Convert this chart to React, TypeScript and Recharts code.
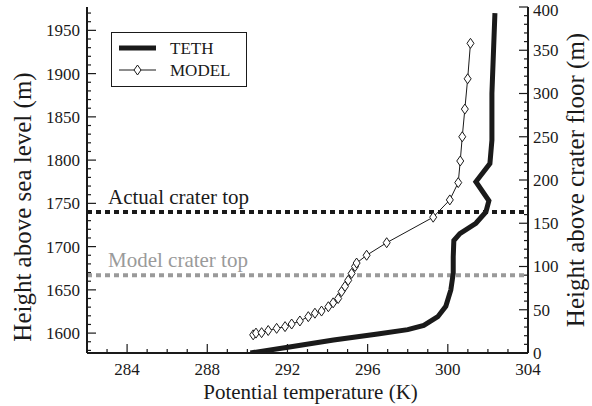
import React from 'react';
import { LineChart, Line, XAxis, YAxis, ReferenceLine, Legend } from 'recharts';

// TETH profile (thick line): potential temperature (K) vs height above sea level (m)
const tethTemp = [290.15, 292.1, 294.3, 296.5, 298.0, 298.8, 299.5, 299.9, 300.15, 300.27, 300.27, 300.3, 300.6, 301.4, 301.9, 302.05, 301.4, 302.1, 302.2, 302.2, 302.35];
const tethHeight = [1577, 1584, 1592, 1599, 1604, 1609, 1619, 1631, 1650, 1669, 1688, 1707, 1715, 1727, 1740, 1753, 1775, 1796, 1823, 1877, 1970];

// MODEL profile (thin line with diamonds)
const modelTemp = [290.29, 290.43, 290.71, 291.04, 291.46, 291.88, 292.21, 292.62, 293.04, 293.37, 293.7, 294.04, 294.28, 294.53, 294.7, 294.87, 295.03, 295.2, 295.37, 295.45, 295.95, 296.95, 299.27, 300.1, 300.52, 300.62, 300.72, 300.85, 300.99, 301.13];
const modelHeight = [1598, 1600, 1600.5, 1603, 1605.5, 1607.5, 1610.5, 1614, 1619, 1623, 1625.5, 1630.5, 1635, 1640, 1648, 1654, 1661, 1669, 1677, 1681, 1690, 1704.5, 1734, 1754, 1774, 1799, 1827, 1859, 1894, 1935];

const tempLabels = [284, 288, 292, 296, 300, 304];
const seaLevelLabels = [1600, 1650, 1700, 1750, 1800, 1850, 1900, 1950];
const craterLabels = [0, 50, 100, 150, 200, 250, 300, 350, 400];

const actualCraterTop = 1740;
const modelCraterTop = 1667;
const craterFloor = 1577;

const tempMinor = Array.from({ length: 23 }, (_, i) => 282 + i);
const seaLevelMinor = Array.from({ length: 40 }, (_, i) => 1580 + i * 10);
const craterMinor = Array.from({ length: 41 }, (_, i) => i * 10);

const tethData = tethTemp.map((t, i) => ({ t, h: tethHeight[i] }));
const modelData = modelTemp.map((t, i) => ({ t, h: modelHeight[i] }));

const FONT = 'Liberation Serif, Times New Roman, serif';
const INK = '#1a1a1a';
const GRAY = '#9a9a9a';
const txt = (size: number, color = INK): React.CSSProperties => ({ fontFamily: FONT, fontSize: size, fill: color });

const BottomTick = (props: any) => {
  const { x, y, payload } = props;
  const major = tempLabels.includes(payload.value);
  return (
    <g>
      <line x1={x} x2={x} y1={y} y2={y - (major ? 9 : 4)} stroke={INK} strokeWidth={1.2} />
      {major && (
        <text x={x} y={y + 22} textAnchor="middle" style={txt(17)}>{payload.value}</text>
      )}
    </g>
  );
};

const TopTick = (props: any) => {
  const { x, y, payload } = props;
  const major = tempLabels.includes(payload.value);
  return <line x1={x} x2={x} y1={y} y2={y + (major ? 9 : 4)} stroke={INK} strokeWidth={1.2} />;
};

const LeftTick = (props: any) => {
  const { x, y, payload } = props;
  const major = seaLevelLabels.includes(payload.value);
  return (
    <g>
      <line x1={x} x2={x + (major ? 9 : 4)} y1={y} y2={y} stroke={INK} strokeWidth={1.2} />
      {major && (
        <text x={x - 7} y={y} dy="0.35em" textAnchor="end" style={txt(17)}>{payload.value}</text>
      )}
    </g>
  );
};

const RightTick = (props: any) => {
  const { x, y, payload } = props;
  const major = craterLabels.includes(payload.value);
  return (
    <g>
      <line x1={x} x2={x - (major ? 9 : 4)} y1={y} y2={y} stroke={INK} strokeWidth={1.2} />
      {major && (
        <text x={x + 5} y={y} dy={payload.value === 400 ? '0.5em' : '0.35em'} textAnchor="start" style={txt(17)}>{payload.value}</text>
      )}
    </g>
  );
};

const Diamond = (props: any) => {
  const { cx, cy } = props;
  if (cx == null || cy == null) return null;
  return (
    <polygon
      points={`${cx},${cy - 5} ${cx + 3.5},${cy} ${cx},${cy + 5} ${cx - 3.5},${cy}`}
      fill="#fff"
      stroke={INK}
      strokeWidth={1}
    />
  );
};

const renderLegend = () => (
  <div style={{ width: 136, height: 55, border: `1.5px solid ${INK}`, background: '#fff', boxSizing: 'border-box' }}>
    <svg width={134} height={52}>
      <line x1={7} x2={44} y1={15} y2={15} stroke={INK} strokeWidth={5} />
      <text x={58} y={15} dy="0.35em" style={txt(17)}>TETH</text>
      <line x1={7} x2={44} y1={37} y2={37} stroke={INK} strokeWidth={1} />
      <Diamond cx={25.5} cy={37} />
      <text x={58} y={37} dy="0.35em" style={txt(17)}>MODEL</text>
    </svg>
  </div>
);

const craterLabel = (text: string, color: string) => (props: any) => {
  const { viewBox } = props;
  return (
    <text x={viewBox.x + 21} y={viewBox.y - 8} style={txt(21, color)}>{text}</text>
  );
};

const App: React.FC = () => {
  return (
    <div style={{ position: 'absolute', left: 0, top: 0, background: '#fff' }}>
      <LineChart width={592} height={406} margin={{ top: 7, right: 0, bottom: 0, left: 0 }}>
        <XAxis
          xAxisId="bottom"
          dataKey="t"
          type="number"
          domain={[282, 304]}
          allowDataOverflow
          ticks={tempMinor}
          interval={0}
          tickSize={0}
          tickMargin={0}
          height={53}
          axisLine={{ stroke: INK, strokeWidth: 2 }}
          tickLine={false}
          tick={<BottomTick />}
          label={(p: any) => (
            <text x={p.viewBox.x + p.viewBox.width / 2 + 3} y={399} textAnchor="middle" style={txt(21)}>
              Potential temperature (K)
            </text>
          )}
        />
        <XAxis
          xAxisId="top"
          orientation="top"
          dataKey="t"
          type="number"
          domain={[282, 304]}
          allowDataOverflow
          ticks={tempMinor}
          interval={0}
          tickSize={0}
          tickMargin={0}
          height={0}
          axisLine={{ stroke: INK, strokeWidth: 2 }}
          tickLine={false}
          tick={<TopTick />}
        />
        <YAxis
          yAxisId="left"
          type="number"
          domain={[craterFloor, craterFloor + 400]}
          allowDataOverflow
          ticks={seaLevelMinor}
          interval={0}
          tickSize={0}
          tickMargin={0}
          width={87}
          axisLine={{ stroke: INK, strokeWidth: 2 }}
          tickLine={false}
          tick={<LeftTick />}
          label={(p: any) => (
            <text
              x={0}
              y={0}
              transform={`translate(${31}, ${p.viewBox.y + p.viewBox.height / 2 + 27}) rotate(-90)`}
              textAnchor="middle"
              style={txt(25)}
            >
              Height above sea level (m)
            </text>
          )}
        />
        <YAxis
          yAxisId="right"
          orientation="right"
          type="number"
          domain={[0, 400]}
          allowDataOverflow
          ticks={craterMinor}
          interval={0}
          tickSize={0}
          tickMargin={0}
          width={64}
          axisLine={{ stroke: INK, strokeWidth: 2 }}
          tickLine={false}
          tick={<RightTick />}
          label={(p: any) => (
            <text
              x={0}
              y={0}
              transform={`translate(${584}, ${p.viewBox.y + p.viewBox.height / 2}) rotate(-90)`}
              textAnchor="middle"
              style={txt(25)}
            >
              Height above crater floor (m)
            </text>
          )}
        />
        <ReferenceLine
          xAxisId="bottom"
          yAxisId="left"
          y={actualCraterTop}
          stroke={INK}
          strokeWidth={4}
          strokeDasharray="5 4"
          label={craterLabel('Actual crater top', INK)}
        />
        <ReferenceLine
          xAxisId="bottom"
          yAxisId="left"
          y={modelCraterTop}
          stroke={GRAY}
          strokeWidth={4}
          strokeDasharray="5 4"
          label={craterLabel('Model crater top', GRAY)}
        />
        <Line
          xAxisId="bottom"
          yAxisId="left"
          data={tethData}
          dataKey="h"
          type="linear"
          stroke={INK}
          strokeWidth={5}
          strokeLinejoin="miter"
          dot={false}
          isAnimationActive={false}
        />
        <Line
          xAxisId="bottom"
          yAxisId="left"
          data={modelData}
          dataKey="h"
          type="linear"
          stroke={INK}
          strokeWidth={1}
          dot={<Diamond />}
          isAnimationActive={false}
        />
        <Legend
          layout="vertical"
          align="center"
          verticalAlign="middle"
          wrapperStyle={{ position: 'absolute', left: 111, top: 32, width: 136, height: 55 }}
          content={renderLegend}
        />
      </LineChart>
    </div>
  );
};

export default App;
